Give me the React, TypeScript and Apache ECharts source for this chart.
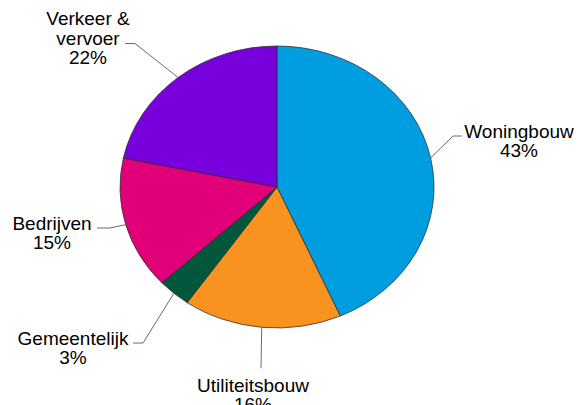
import React, { useEffect, useRef } from "react";
import * as echarts from "echarts";

const CATEGORIES = ["Woningbouw", "Utiliteitsbouw", "Gemeentelijk", "Bedrijven", "Verkeer & vervoer"];
const LABEL_TEXTS = ["Woningbouw", "Utiliteitsbouw", "Gemeentelijk", "Bedrijven", "Verkeer &\nvervoer"];
const SHARES = [43.4, 16.3, 3.4, 15.2, 21.7];
const COLORS = ["#009EE0", "#F7931E", "#00573C", "#E2007A", "#7800DC"];

// label layout: elbow point, end point, text centre (pixels in the 580x405 canvas)
const LABEL_LAYOUT = [
  { elbow: [453, 136], end: [462, 136], text: [519, 141] },
  { elbow: [261, 368], end: [261, 368], text: [253, 395] },
  { elbow: [143, 343], end: [133, 343], text: [73, 348] },
  { elbow: [110, 228], end: [97, 228], text: [52, 233] },
  { elbow: [135, 43.5], end: [125, 43.5], text: [88, 38] },
];

const CX = 277;
const CY = 187;
const RX = 157;
const RY = 141;

export default function App() {
  const ref = useRef<HTMLDivElement>(null);
  useEffect(() => {
    if (!ref.current) return;
    const chart = echarts.init(ref.current, undefined, { renderer: "svg" });
    const total = SHARES.reduce((a, b) => a + b, 0);
    let acc = 0;
    const data = SHARES.map((v, i) => {
      const d = { name: CATEGORIES[i], value: [acc, v] };
      acc += v;
      return d;
    });
    const renderItem = (params: any, api: any) => {
      const i = params.dataIndex;
      const start = api.value(0) / total;
      const frac = api.value(1) / total;
      const a0 = -Math.PI / 2 + start * Math.PI * 2;
      const a1 = -Math.PI / 2 + (start + frac) * Math.PI * 2;
      const mid = (a0 + a1) / 2;
      const ax = CX + RX * Math.cos(mid);
      const ay = CY + RY * Math.sin(mid);
      const lay = LABEL_LAYOUT[i];
      const pct = Math.round(api.value(1)) + "%";
      return {
        type: "group",
        children: [
          {
            type: "sector",
            x: CX,
            y: CY,
            scaleX: 1,
            scaleY: RY / RX,
            shape: { cx: 0, cy: 0, r: RX, r0: 0, startAngle: a0, endAngle: a1, clockwise: true },
            style: {
              fill: COLORS[i],
              stroke: "#2a2a2a",
              lineWidth: 0.8,
              strokeNoScale: true,
            },
          },
          {
            type: "polyline",
            shape: { points: [[ax, ay], lay.elbow, lay.end] },
            style: { stroke: "#6b6b6b", lineWidth: 1, fill: null },
            z2: 10,
          },
          {
            type: "text",
            x: lay.text[0],
            y: lay.text[1],
            z2: 10,
            style: {
              text: LABEL_TEXTS[i] + "\n" + pct,
              fill: "#000",
              fontSize: 19,
              fontFamily: "'Liberation Sans', Arial, sans-serif",
              lineHeight: 19.5,
              align: "center",
              verticalAlign: "middle",
              textAlign: "center",
              textVerticalAlign: "middle",
            },
          },
        ],
      };
    };
    chart.setOption({
      animation: false,
      backgroundColor: "#fff",
      series: [
        {
          type: "custom",
          coordinateSystem: "none",
          silent: true,
          renderItem,
          data,
        },
      ],
    });
    return () => chart.dispose();
  }, []);
  return (
    <div
      ref={ref}
      style={{ position: "fixed", left: 0, top: 0, width: 580, height: 405 }}
    />
  );
}
